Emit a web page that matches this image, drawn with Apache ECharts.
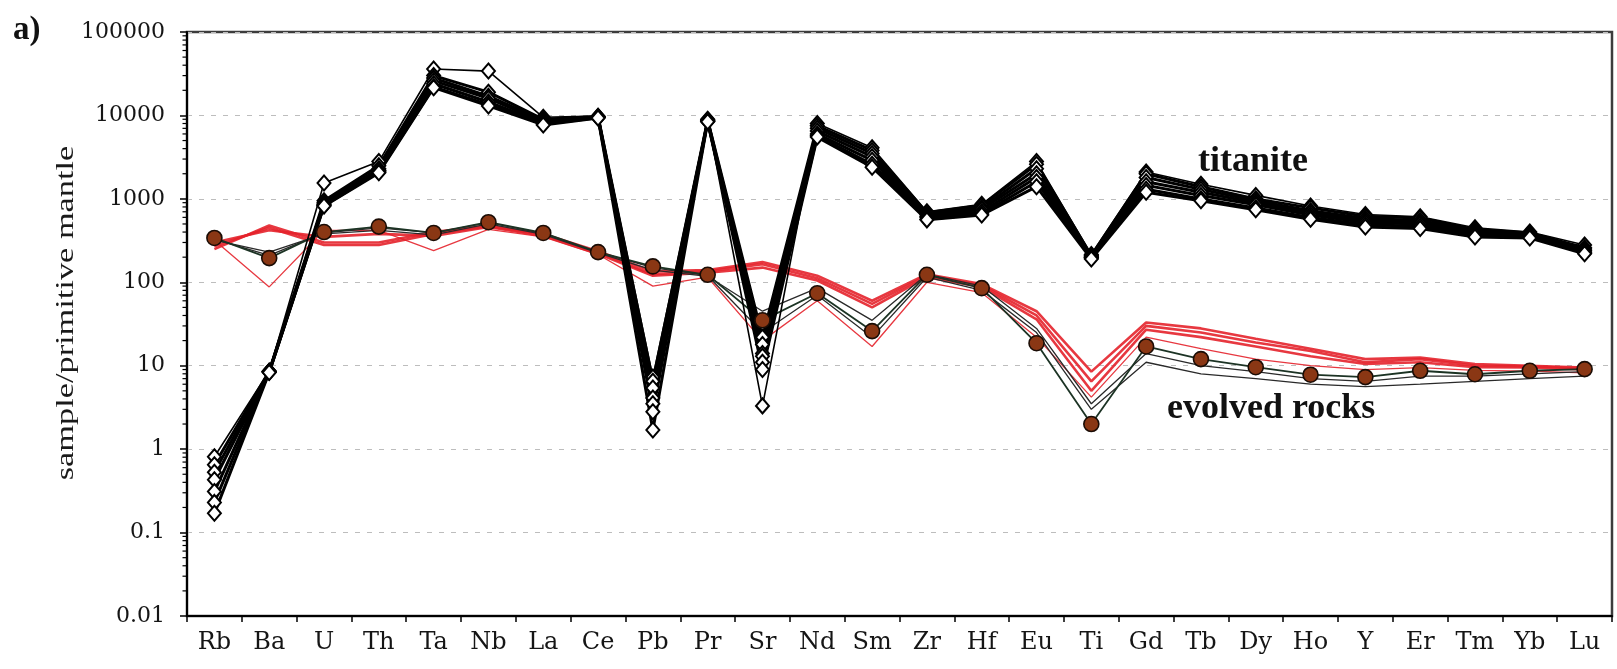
<!DOCTYPE html>
<html>
<head>
<meta charset="utf-8">
<script src="https://cdn.jsdelivr.net/npm/echarts@6/dist/echarts.min.js"></script>
<style>
  html, body { margin: 0; padding: 0; background: #fff; }
  #chart { width: 1617px; height: 669px; }
</style>
</head>
<body>
<div id="chart"></div>
<script>
// Element order along the x axis
const categories = ['Rb','Ba','U','Th','Ta','Nb','La','Ce','Pb','Pr','Sr','Nd','Sm','Zr','Hf','Eu','Ti','Gd','Tb','Dy','Ho','Y','Er','Tm','Yb','Lu'];

// y tick labels, one per decade from 0.01 to 100000
const yTickLabels = ['0.01','0.1','1','10','100','1000','10000','100000'];
// mantissas of the minor log ticks inside each decade
const minorMantissas = [2, 3, 4, 5, 6, 7, 8, 9];

// Titanite analyses (normalised to primitive mantle)
const titanite1 = [0.81, 8.6, 1550, 2800, 36000, 34000, 9500, 9800, 7.3, 9000, 3.3, 8000, 4100, 700, 860, 2800, 215, 2100, 1500, 1100, 820, 650, 610, 450, 400, 280];
const titanite2 = [0.65, 8.6, 950, 2500, 30000, 19000, 9000, 9700, 6.5, 8800, 22, 7500, 3800, 680, 830, 2600, 210, 2000, 1400, 1000, 780, 620, 590, 430, 390, 260];
const titanite3 = [0.53, 8.5, 900, 2300, 28000, 17000, 8700, 9600, 5.4, 8700, 18, 7000, 3500, 650, 780, 2300, 205, 1800, 1300, 950, 720, 580, 550, 410, 380, 250];
const titanite4 = [0.43, 8.5, 870, 2200, 26000, 16000, 8400, 9500, 4.1, 8600, 14, 6500, 3200, 620, 750, 2000, 200, 1600, 1200, 900, 680, 550, 520, 390, 370, 240];
const titanite5 = [0.31, 8.4, 850, 2150, 24000, 14500, 8100, 9500, 3.5, 8500, 13, 6000, 2900, 600, 700, 1800, 200, 1450, 1100, 850, 640, 520, 500, 380, 360, 230];
const titanite6 = [0.23, 8.4, 830, 2100, 22000, 13500, 7900, 9400, 2.8, 8500, 11, 5700, 2600, 570, 660, 1600, 195, 1300, 1000, 780, 600, 490, 470, 370, 350, 225];
const titanite7 = [0.17, 8.3, 820, 2050, 21500, 13000, 7700, 9300, 1.7, 8400, 9, 5500, 2400, 560, 640, 1400, 190, 1200, 950, 740, 570, 460, 440, 350, 340, 220];

// Evolved rocks: red whole-rock patterns
const evolvedRed1 = [250, 480, 300, 300, 400, 480, 380, 235, 135, 140, 175, 120, 60, 125, 95, 45, 8.5, 33, 28, 21, 16, 12, 12.5, 10.5, 10, 9.5];
const evolvedRed2 = [270, 450, 280, 280, 380, 470, 370, 225, 125, 135, 165, 112, 55, 120, 92, 40, 6.5, 30, 25, 19, 15, 11, 12, 10, 9.8, 9.3];
const evolvedRed3 = [300, 420, 350, 380, 360, 460, 360, 220, 120, 130, 150, 105, 50, 115, 88, 36, 5, 27, 22, 17, 13, 10.5, 11, 9.6, 9.5, 9];
const evolvedRed4 = [320, 88, 420, 420, 240, 430, 350, 215, 90, 115, 20, 60, 17, 100, 75, 22, 4.2, 22, 16, 12, 10, 9, 9.5, 8.8, 8.6, 8.2];
// Evolved rocks: dark thin patterns
const evolvedDark1 = [330, 210, 390, 450, 390, 520, 385, 230, 150, 120, 25, 70, 22, 115, 80, 25, 3, 11, 8, 7, 6, 5.6, 6, 6.5, 7, 7.5];
const evolvedDark2 = [320, 230, 380, 420, 370, 500, 375, 225, 140, 118, 45, 85, 35, 125, 90, 28, 3.5, 14, 10, 8.5, 7, 6.5, 7.5, 7.5, 8, 8.5];
// Evolved rocks: sample shown with filled circles
const evolvedCircles = [340, 195, 400, 465, 390, 525, 390, 230, 155, 123, 35, 74, 26, 123, 85, 18.6, 2.0, 17, 12, 9.6, 7.8, 7.3, 8.7, 7.9, 8.7, 9.1];

const titaniteSets = [titanite1, titanite2, titanite3, titanite4, titanite5, titanite6, titanite7];
const redSets = [evolvedRed1, evolvedRed2, evolvedRed3, evolvedRed4];
const darkSets = [evolvedDark1, evolvedDark2];

const SERIF = '"DejaVu Serif", serif';
const TIMES = '"Liberation Serif", "Times New Roman", serif';

// minor tick positions: 2..9 times each decade below the top
const minorTickValues = [];
for (let e = -2; e < 5; e++) {
  minorMantissas.forEach(function (m) { minorTickValues.push([0, m * Math.pow(10, e)]); });
}

const series = [];

redSets.forEach(function (d, i) {
  series.push({
    type: 'line', data: d, symbol: 'none', silent: true,
    lineStyle: { color: '#e4222b', width: i === 3 ? 1.3 : 2.6, opacity: 0.9 }
  });
});
darkSets.forEach(function (d) {
  series.push({
    type: 'line', data: d, symbol: 'none', silent: true,
    lineStyle: { color: '#2a2a2a', width: 1.3 }
  });
});
series.push({
  type: 'line', data: evolvedCircles, symbol: 'circle', symbolSize: 15, silent: true,
  lineStyle: { color: '#1c3324', width: 1.8 },
  itemStyle: { color: '#8a3714', borderColor: '#1a0c05', borderWidth: 1.6 }
});
titaniteSets.forEach(function (d, i) {
  series.push({
    type: 'line', data: d, symbol: 'diamond', symbolSize: [13, 15], silent: true,
    lineStyle: { color: '#000', width: i === 0 ? 1.6 : 3 },
    itemStyle: { color: '#fff', borderColor: '#000', borderWidth: 2 }
  });
});

// log minor ticks on the outer side of the y axis
series.push({
  type: 'custom', data: minorTickValues, silent: true, clip: false, z: 10,
  renderItem: function (params, api) {
    const p = api.coord([0, api.value(1)]);
    const half = api.size([1, 0])[0] / 2;
    const x0 = p[0] - half;
    return {
      type: 'line',
      shape: { x1: x0 - 4.5, y1: p[1], x2: x0, y2: p[1] },
      style: { stroke: '#000', lineWidth: 1.2 }
    };
  }
});

const chart = echarts.init(document.getElementById('chart'), null, { renderer: 'canvas' });
chart.setOption({
  backgroundColor: '#fff',
  animation: false,
  grid: {
    left: 187, top: 32, right: 5, bottom: 53,
    show: true, borderColor: '#3c3c3c', borderWidth: 2.5,
    containLabel: false, outerBoundsMode: 'none'
  },
  xAxis: {
    type: 'category',
    data: categories,
    boundaryGap: true,
    axisLine: { show: true, lineStyle: { color: '#000', width: 2 } },
    axisTick: { show: true, inside: false, length: 6, alignWithLabel: false, interval: 0, lineStyle: { color: '#000', width: 1.5 } },
    axisLabel: { interval: 0, margin: 15, color: '#151515', fontFamily: SERIF, fontSize: 24 },
    splitLine: { show: false }
  },
  yAxis: {
    type: 'log',
    logBase: 10,
    min: 0.01,
    max: 100000,
    splitNumber: 7,
    axisLine: { show: true, lineStyle: { color: '#000', width: 2 } },
    axisTick: { show: true, inside: false, length: 7, lineStyle: { color: '#000', width: 1.5 } },
    minorTick: { show: false },
    axisLabel: {
      margin: 22, color: '#151515', fontFamily: SERIF, fontSize: 22,
      formatter: function (v) {
        const e = Math.round(Math.log10(v));
        return yTickLabels[e + 2];
      }
    },
    splitLine: { show: true, lineStyle: { color: '#bdbdbd', width: 1.2, type: [5, 7] } }
  },
  graphic: [
    {
      type: 'text', left: 13, top: 14,
      style: { text: 'a)', font: 'bold 33px ' + TIMES, fill: '#111' }
    },
    {
      type: 'text', x: 66, y: 313, rotation: Math.PI / 2, scaleX: 1.32, scaleY: 1,
      style: { text: 'sample/primitive mantle', font: '26px ' + TIMES, fill: '#1a1a1a', align: 'center', verticalAlign: 'middle' }
    },
    {
      type: 'text', left: 1198, top: 144, z: 100,
      style: { text: 'titanite', font: 'bold 36px ' + TIMES, fill: '#111' }
    },
    {
      type: 'text', left: 1167, top: 391, z: 100,
      style: { text: 'evolved rocks', font: 'bold 36px ' + TIMES, fill: '#111' }
    }
  ],
  series: series
});
</script>
</body>
</html>
